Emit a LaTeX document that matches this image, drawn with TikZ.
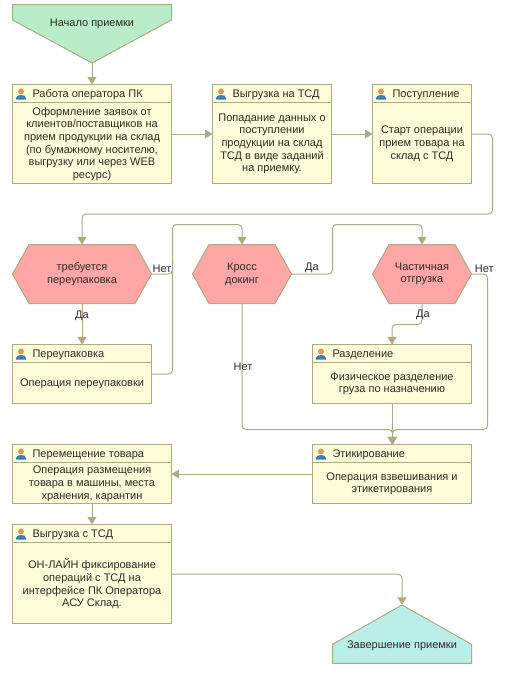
\documentclass[tikz,border=0pt]{standalone}
\usepackage{fontspec}
\setmainfont{Liberation Sans}
\usepackage{xcolor}
\usepackage{tikz}
\usetikzlibrary{shapes.symbols,positioning,calc,arrows.meta}
\definecolor{linecol}{HTML}{B0AA82}
\definecolor{boxfill}{HTML}{FEFCD9}
\definecolor{hexfill}{HTML}{FFA6A6}
\definecolor{startfill}{HTML}{B9ECC9}
\definecolor{endfill}{HTML}{B9EEE9}
\definecolor{textcol}{HTML}{2E2A26}
\definecolor{skin}{HTML}{DD9A55}
\definecolor{suit}{HTML}{3A7DB8}

\begin{document}
\begin{tikzpicture}[
        x=0.75pt, y=-0.75pt,
        every node/.style={font=\fontsize{8.25pt}{9.5pt}\selectfont, text=textcol, outer sep=0pt},
        box/.style 2 args={draw=linecol, line width=0.75pt, fill=boxfill, rectangle, anchor=north west,
            minimum width=#1*0.75pt, minimum height=#2*0.75pt,
            path picture={
                \def\hx{-#1/2}
                \def\hy{-#2/2}
                \draw [linecol, line width=0.75pt] (\hx,\hy+18) -- (#1/2,\hy+18);
                \fill [suit] (\hx+3.5,\hy+15) -- (\hx+3.5,\hy+13.5)
                    .. controls (\hx+3.5,\hy+11.5) and (\hx+6,\hy+10.5) .. (\hx+8.5,\hy+10.5)
                    .. controls (\hx+11,\hy+10.5) and (\hx+13.5,\hy+11.5) .. (\hx+13.5,\hy+13.5)
                    -- (\hx+13.5,\hy+15) -- cycle;
                \fill [skin] (\hx+8.5,\hy+7) circle (3);
            }},
        title/.style={anchor=west, xshift=15pt, yshift=-7.6pt, inner sep=0pt},
        body/.style={align=center, yshift=-7.4pt, inner sep=0pt},
        hex/.style={draw=linecol, line width=0.75pt, fill=hexfill, signal, signal to=east and west,
            signal from=nowhere, signal pointer angle=121.6, minimum width=#1*0.75pt, minimum height=44.25pt,
            inner sep=0pt, align=center},
        lbl/.style={inner sep=0pt},
        arrow/.style={-{Triangle[length=5.8pt, width=6.8pt]}, draw=linecol, line width=0.75pt, rounded corners=3pt},
        link/.style={draw=linecol, line width=0.75pt, rounded corners=3pt}
    ]
        \useasboundingbox (0,0) rectangle (508,678);

        % Start
        \node (start) [draw=linecol, line width=0.75pt, fill=startfill, signal, signal to=south, signal from=nowhere,
            signal pointer angle=123.2, minimum width=119.25pt, minimum height=11.6pt, inner sep=0pt] at (92,12.25) {};
        \node (startText) [lbl] at (92,23.5) {Начало приемки};

        % Top row
        \node (oper) [box={159}{99}] at (12.5,84.5) {};
        \node (operTitle) [title] at (oper.north west) {Работа оператора ПК};
        \node (operText) [body] at (oper) {Оформление заявок от\\клиентов/поставщиков на\\прием продукции на склад\\(по бумажному носителю,\\выгрузку или через WEB\\ресурс)};

        \node (tsd) [box={119}{99}] at (212.5,84.5) {};
        \node (tsdTitle) [title] at (tsd.north west) {Выгрузка на ТСД};
        \node (tsdText) [body] at (tsd) {Попадание данных о\\поступлении\\продукции на склад\\ТСД в виде заданий\\на приемку.};

        \node (post) [box={99}{99}] at (372.5,84.5) {};
        \node (postTitle) [title] at (post.north west) {Поступление};
        \node (postText) [body] at (post) {Старт операции\\прием товара на\\склад с ТСД};

        % Decisions
        \node (packHex) [hex=139] at (82,274) {требуется\\переупаковка};
        \node (crossHex) [hex=99] at (242,274) {Кросс\\докинг};
        \node (partHex) [hex=99] at (422,274) {Частичная\\отгрузка};

        % Middle boxes
        \node (pack) [box={139}{59}] at (12.5,344.5) {};
        \node (packTitle) [title] at (pack.north west) {Переупаковка};
        \node (packText) [body] at (pack) {Операция переупаковки};

        \node (razd) [box={159}{59}] at (312.5,344.5) {};
        \node (razdTitle) [title] at (razd.north west) {Разделение};
        \node (razdText) [body] at (razd) {Физическое разделение\\груза по назначению};

        \node (etik) [box={159}{59}] at (312.5,444.5) {};
        \node (etikTitle) [title] at (etik.north west) {Этикирование};
        \node (etikText) [body] at (etik) {Операция взвешивания и\\этикетирования};

        \node (move) [box={159}{59}] at (12.5,444.5) {};
        \node (moveTitle) [title] at (move.north west) {Перемещение товара};
        \node (moveText) [body] at (move) {Операция размещения\\товара в машины, места\\хранения, карантин};

        \node (unload) [box={159}{99}] at (12.5,524.5) {};
        \node (unloadTitle) [title] at (unload.north west) {Выгрузка с ТСД};
        \node (unloadText) [body] at (unload) {ОН-ЛАЙН фиксирование\\операций с ТСД на\\интерфейсе ПК Оператора\\АСУ Склад.};

        % Finish
        \node (finish) [draw=linecol, line width=0.75pt, fill=endfill, signal, signal to=north, signal from=nowhere,
            signal pointer angle=121, minimum width=104.25pt, minimum height=14.25pt, inner sep=0pt] at (402,653.8) {};
        \node (finishText) [lbl] at (402,645.5) {Завершение приемки};

        % Connectors
        \coordinate (merge) at (392.5,429.5);
        \draw [arrow] (start.south) -- (oper.north -| start.south);
        \draw [arrow] (oper.east) -- (tsd.west);
        \draw [arrow] (tsd.east) -- (post.west);
        \draw [arrow] (post.east) -- ++(21,0) -- ++(0,80) -| (packHex.north);
        \draw [arrow] (packHex.south) -- node[lbl, pos=0.3] {Да} (pack.north -| packHex.south);
        \draw [arrow] (pack.east) -- ++(21,0) |- ($(crossHex.north)+(0,-20)$) -- (crossHex.north);
        \draw [link] (packHex.east) -- node[lbl, above=1pt] {Нет} ++(21,0) -- ++(0,-15);
        \draw [arrow] (crossHex.east) -- node[lbl, above=1pt] {Да} ++(41,0) |- ($(partHex.north)+(0,-20)$) -- (partHex.north);
        \draw [arrow] (crossHex.south) |- (merge) -- (etik.north -| merge);
        \node (crossNo) [lbl] at (243,367) {Нет};
        \draw [arrow] (partHex.south) -- ++(0,21) -| (razd.north);
        \node (partYes) [lbl] at (423,315) {Да};
        \draw [arrow] (partHex.east) -- node[lbl, above=1pt, pos=0.8] {Нет} ++(16,0) |- (merge) -- (etik.north -| merge);
        \draw [arrow] (razd.south) -- (etik.north -| razd.south);
        \draw [arrow] (etik.west |- move.east) -- (move.east);
        \draw [arrow] (move.south) -- (unload.north);
        \draw [arrow] (unload.east) -| (finish.north);
    \end{tikzpicture}
\end{document}
